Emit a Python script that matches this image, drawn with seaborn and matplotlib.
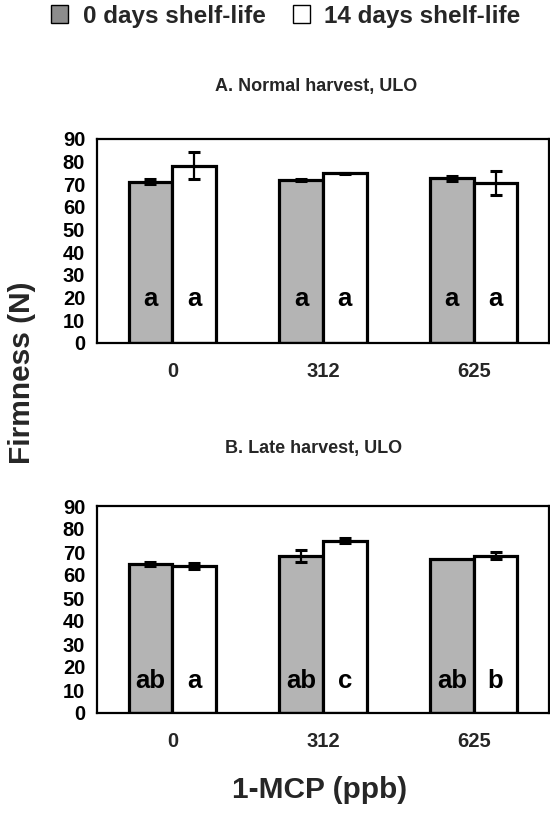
import numpy as np
import pandas as pd
import matplotlib
matplotlib.use("Agg")
import matplotlib.pyplot as plt
from matplotlib.patches import Patch
from matplotlib.ticker import FixedLocator, NullFormatter
import seaborn as sns

# ---- data -------------------------------------------------------------
doses = ["0", "312", "625"]
shelf_labels = ["0 days shelf-life", "14 days shelf-life"]

# A. Normal harvest, ULO
normal_day0 = [71.2, 72.0, 72.6]
normal_day0_err = [1.0, 0.5, 1.0]
normal_day14 = [78.2, 74.8, 70.6]
normal_day14_err = [5.9, 0.4, 5.4]
normal_letters_day0 = ["a", "a", "a"]
normal_letters_day14 = ["a", "a", "a"]

# B. Late harvest, ULO
late_day0 = [64.6, 68.2, 67.0]
late_day0_err = [0.9, 2.6, 0.0]
late_day14 = [64.0, 74.9, 68.3]
late_day14_err = [1.4, 1.0, 1.5]
late_letters_day0 = ["ab", "ab", "ab"]
late_letters_day14 = ["a", "c", "b"]

y_ticks = list(range(0, 91, 10))

panel_titles = ["A. Normal harvest, ULO", "B. Late harvest, ULO"]
y_label = "Firmness (N)"
x_label = "1-MCP (ppb)"

GRAY = "#b4b4b4"
WHITE = "#ffffff"

sns.set_theme(style="white")
plt.rcParams["font.family"] = ["Liberation Sans", "DejaVu Sans"]
plt.rcParams["font.weight"] = "bold"


def make_frame(d0, e0, d14, e14, l0, l14):
    rows = []
    for i, dose in enumerate(doses):
        rows.append(dict(dose=dose, shelf=shelf_labels[0], firmness=d0[i], err=e0[i], letter=l0[i]))
        rows.append(dict(dose=dose, shelf=shelf_labels[1], firmness=d14[i], err=e14[i], letter=l14[i]))
    return pd.DataFrame(rows)


def draw_panel(ax, df, letter_y):
    sns.barplot(data=df, x="dose", y="firmness", hue="shelf", order=doses,
                hue_order=shelf_labels, palette=[GRAY, WHITE], edgecolor="black",
                linewidth=2.3, errorbar=None, width=0.58, dodge=True, ax=ax,
                legend=False, saturation=1)
    bar_groups = list(ax.containers)
    # error bars and letters, positioned from the bars seaborn drew
    for hue_idx, container in enumerate(bar_groups):
        sub = df[df["shelf"] == shelf_labels[hue_idx]].set_index("dose").loc[doses]
        for bar, (_, row) in zip(container.patches, sub.iterrows()):
            cx = bar.get_x() + bar.get_width() / 2
            if row["err"] > 0:
                ax.errorbar(cx, row["firmness"], yerr=row["err"], color="black",
                            elinewidth=1.6, capsize=4.5, capthick=2.2, zorder=5)
            ax.text(cx, letter_y, row["letter"], ha="center", va="center",
                    fontsize=18.5, fontweight="bold", color="black", zorder=6)
    ax.set_ylim(0, 90)
    ax.set_xlim(-0.5, 2.5)
    ax.set_yticks(y_ticks)
    ax.set_yticklabels([str(t) for t in y_ticks], fontsize=14.5, fontweight="bold")
    # tick marks at category boundaries, labels centred on categories
    ax.xaxis.set_major_locator(FixedLocator([-0.5, 0.5, 1.5, 2.5]))
    ax.xaxis.set_major_formatter(NullFormatter())
    ax.xaxis.set_minor_locator(FixedLocator([0, 1, 2]))
    ax.set_xticklabels(doses, minor=True, fontsize=14.5, fontweight="bold")
    ax.tick_params(axis="x", which="major", direction="out", length=5, width=1.3, colors="black")
    ax.tick_params(axis="x", which="minor", length=0, pad=14)
    ax.tick_params(axis="y", direction="out", length=4.5, width=1.3, pad=4, colors="black")
    ax.set_xlabel("")
    ax.set_ylabel("")
    for s in ax.spines.values():
        s.set_visible(True)
        s.set_color("black")
        s.set_linewidth(1.6)


fig = plt.figure(figsize=(5.5, 8.18), dpi=100)
W, H = 550, 818
ax_top = fig.add_axes([97 / W, 1 - 343 / H, (549 - 97) / W, (343 - 139) / H])
ax_bot = fig.add_axes([97 / W, 1 - 713 / H, (549 - 97) / W, (713 - 506) / H])

draw_panel(ax_top, make_frame(normal_day0, normal_day0_err, normal_day14, normal_day14_err,
                              normal_letters_day0, normal_letters_day14), 19.5)
draw_panel(ax_bot, make_frame(late_day0, late_day0_err, late_day14, late_day14_err,
                              late_letters_day0, late_letters_day14), 14.0)

fig.text(316 / W, 1 - 87 / H, panel_titles[0], ha="center", va="center",
         fontsize=13, fontweight="bold")
fig.text(314 / W, 1 - 448 / H, panel_titles[1], ha="center", va="center",
         fontsize=13, fontweight="bold")
fig.text(22 / W, 1 - 373 / H, y_label, ha="center", va="center", rotation=90,
         fontsize=21.5, fontweight="bold")
fig.text(320 / W, 1 - 790 / H, x_label, ha="center", va="center",
         fontsize=21.5, fontweight="bold")

handles = [Patch(facecolor="#8c8c8c", edgecolor="black", linewidth=1.0),
           Patch(facecolor=WHITE, edgecolor="black", linewidth=1.0)]
fig.legend(handles, shelf_labels, loc="center", bbox_to_anchor=(286 / W, 1 - 16 / H),
           ncol=2, frameon=False, handlelength=0.7, handleheight=0.7,
           handletextpad=0.6, columnspacing=1.1,
           prop=dict(size=17.5, weight="bold"))

fig.savefig("out.png", dpi=100)
